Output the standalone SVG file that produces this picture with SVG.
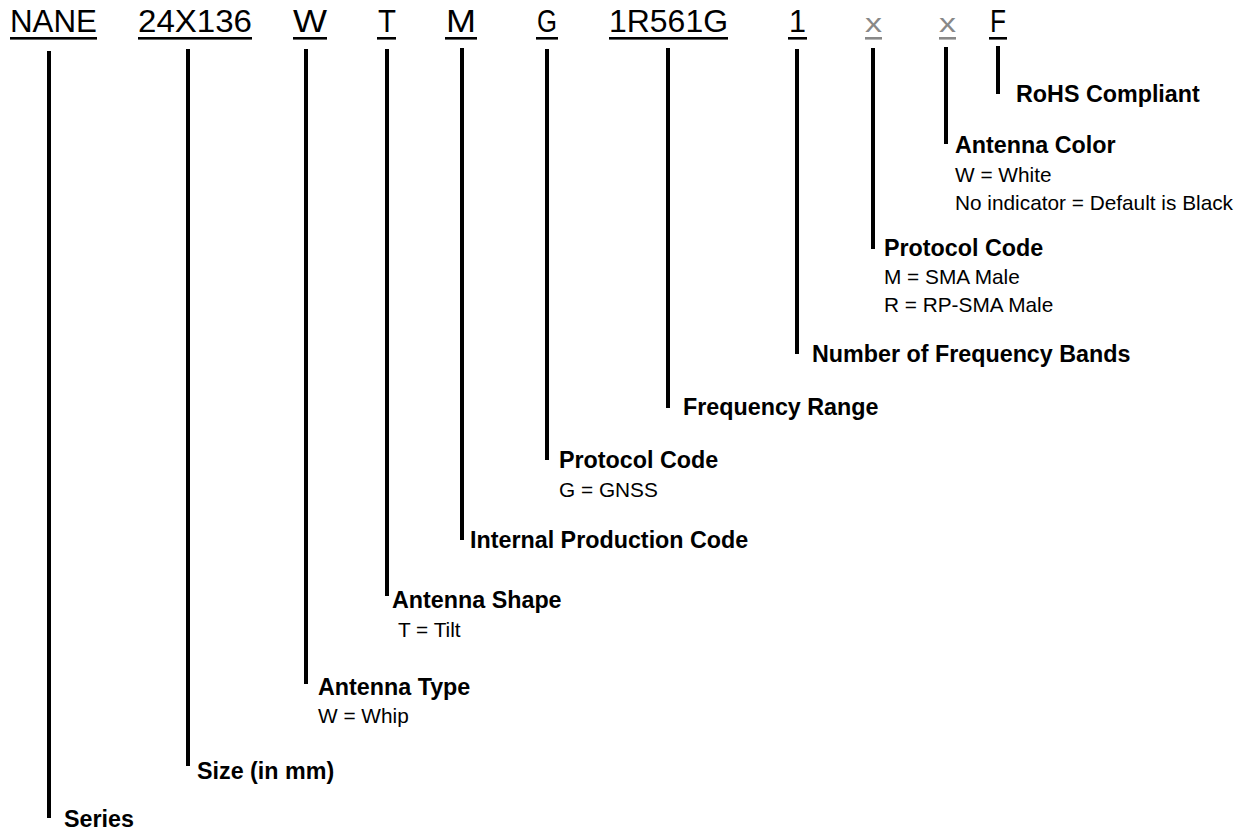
<svg xmlns="http://www.w3.org/2000/svg" width="1249" height="830" viewBox="0 0 1249 830">
<style>
.code{font-family:"Liberation Sans",Arial,sans-serif;font-size:31px;fill:#000}
.codeg{font-family:"Liberation Sans",Arial,sans-serif;font-size:26px;fill:#888}
.ul{fill:#000}
.ulg{fill:#888}
.t{font-family:"Liberation Sans",Arial,sans-serif;font-size:23.3px;font-weight:bold;fill:#000}
.d{font-family:"Liberation Sans",Arial,sans-serif;font-size:20.8px;fill:#000}
.c line{stroke:#000;stroke-width:4}
</style>
<rect width="1249" height="830" fill="#fff"/>
<g id="codes">
<g id="code-nane"><text class="code" x="10" y="32" textLength="87" lengthAdjust="spacingAndGlyphs">NANE</text><rect class="ul" x="10" y="37" width="87" height="2.6"/></g>
<g id="code-size"><text class="code" x="138" y="32" textLength="114" lengthAdjust="spacingAndGlyphs">24X136</text><rect class="ul" x="138" y="37" width="114" height="2.6"/></g>
<g id="code-w"><text class="code" x="293" y="32" textLength="34" lengthAdjust="spacingAndGlyphs">W</text><rect class="ul" x="293" y="37" width="34" height="2.6"/></g>
<g id="code-t"><text class="code" x="378" y="32" textLength="18" lengthAdjust="spacingAndGlyphs">T</text><rect class="ul" x="377" y="37" width="19" height="2.6"/></g>
<g id="code-m"><text class="code" x="446" y="32" textLength="30" lengthAdjust="spacingAndGlyphs">M</text><rect class="ul" x="445" y="37" width="32" height="2.6"/></g>
<g id="code-g"><text class="code" x="537" y="32" textLength="20" lengthAdjust="spacingAndGlyphs">G</text><rect class="ul" x="536" y="37" width="22" height="2.6"/></g>
<g id="code-freq"><text class="code" x="609" y="32" textLength="119" lengthAdjust="spacingAndGlyphs">1R561G</text><rect class="ul" x="609" y="37" width="119" height="2.6"/></g>
<g id="code-bands"><text class="code" x="789" y="32" textLength="17" lengthAdjust="spacingAndGlyphs">1</text><rect class="ul" x="788" y="37" width="19" height="2.6"/></g>
<g id="code-x1"><text class="codeg" x="865" y="31.5" textLength="17" lengthAdjust="spacingAndGlyphs">x</text><rect class="ulg" x="865" y="37" width="17" height="2.6"/></g>
<g id="code-x2"><text class="codeg" x="939" y="31.5" textLength="17" lengthAdjust="spacingAndGlyphs">x</text><rect class="ulg" x="939" y="37" width="17" height="2.6"/></g>
<g id="code-f"><text class="code" x="990" y="32" textLength="16" lengthAdjust="spacingAndGlyphs">F</text><rect class="ul" x="989" y="37" width="18" height="2.6"/></g>
</g>
<g id="connectors" class="c">
<line x1="49" y1="51" x2="49" y2="818"/>
<line x1="188" y1="49" x2="188" y2="766"/>
<line x1="306" y1="49" x2="306" y2="684"/>
<line x1="387" y1="49" x2="387" y2="596"/>
<line x1="462" y1="48" x2="462" y2="540"/>
<line x1="547" y1="49" x2="547" y2="460"/>
<line x1="668" y1="48" x2="668" y2="408"/>
<line x1="797" y1="49" x2="797" y2="354"/>
<line x1="873" y1="48" x2="873" y2="249"/>
<line x1="946" y1="47" x2="946" y2="144"/>
<line x1="998" y1="46" x2="998" y2="94"/>
</g>
<g id="label-rohs"><text class="t" x="1016" y="102">RoHS Compliant</text></g>
<g id="label-color"><text class="t" x="955" y="153">Antenna Color</text><text class="d" x="955" y="182">W = White</text><text class="d" x="955" y="210">No indicator = Default is Black</text></g>
<g id="label-protocol2"><text class="t" x="884" y="256">Protocol Code</text><text class="d" x="884" y="284">M = SMA Male</text><text class="d" x="884" y="312">R = RP-SMA Male</text></g>
<g id="label-bands"><text class="t" x="812" y="362">Number of Frequency Bands</text></g>
<g id="label-freq"><text class="t" x="683" y="415">Frequency Range</text></g>
<g id="label-protocol1"><text class="t" x="559" y="468">Protocol Code</text><text class="d" x="559" y="497">G = GNSS</text></g>
<g id="label-internal"><text class="t" x="470" y="548">Internal Production Code</text></g>
<g id="label-shape"><text class="t" x="392" y="608">Antenna Shape</text><text class="d" x="398" y="637">T = Tilt</text></g>
<g id="label-type"><text class="t" x="318" y="695">Antenna Type</text><text class="d" x="318" y="723">W = Whip</text></g>
<g id="label-size"><text class="t" x="197" y="779">Size (in mm)</text></g>
<g id="label-series"><text class="t" x="64" y="827">Series</text></g>
</svg>
